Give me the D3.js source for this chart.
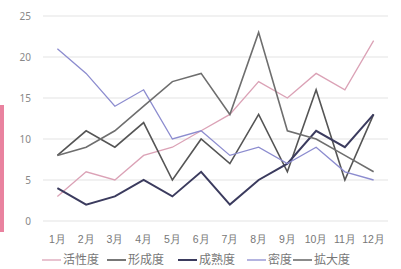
<!DOCTYPE html>
<html>
<head>
<meta charset="utf-8">
<script src="https://cdn.jsdelivr.net/npm/d3@7"></script>
<style>
  html, body { margin: 0; padding: 0; background: #fff; }
  svg { display: block; font-family: "Noto Sans CJK JP", "Noto Sans", sans-serif; }
</style>
</head>
<body>
<div id="chart"></div>
<script>
const WIDTH = 401;
const HEIGHT = 269;

const MONTHS = ["1月", "2月", "3月", "4月", "5月", "6月", "7月", "8月", "9月", "10月", "11月", "12月"];
const Y_TICKS = [0, 5, 10, 15, 20, 25];

// series values
const KASSEI = [3, 6, 5, 8, 9, 11, 13, 17, 15, 18, 16, 22];   // 活性度
const KEISEI = [8, 11, 9, 12, 5, 10, 7, 13, 6, 16, 5, 13];    // 形成度
const SEIJUKU = [4, 2, 3, 5, 3, 6, 2, 5, 7, 11, 9, 13];       // 成熟度
const MITSUDO = [21, 18, 14, 16, 10, 11, 8, 9, 7, 9, 6, 5];   // 密度
const KAKUDAI = [8, 9, 11, 14, 17, 18, 13, 23, 11, 10, 8, 6]; // 拡大度

const SERIES = [
  { name: "活性度", values: KASSEI, color: "#dba2b6", width: 1.3 },
  { name: "形成度", values: KEISEI, color: "#555555", width: 1.6 },
  { name: "成熟度", values: SEIJUKU, color: "#3b3b5e", width: 2 },
  { name: "密度", values: MITSUDO, color: "#8c8ccf", width: 1.3 },
  { name: "拡大度", values: KAKUDAI, color: "#6e6e6e", width: 1.6 },
];

const margin = { left: 43, right: 13, top: 16, bottom: 48 };

const svg = d3.select("#chart").append("svg")
  .attr("width", WIDTH)
  .attr("height", HEIGHT);

// pink accent strip on the left edge
svg.append("rect")
  .attr("x", 0).attr("y", 105)
  .attr("width", 4).attr("height", 127)
  .attr("fill", "#e9829f");

const x = d3.scaleBand()
  .domain(MONTHS)
  .range([margin.left, WIDTH - margin.right]);

const y = d3.scaleLinear()
  .domain([0, 25])
  .range([HEIGHT - margin.bottom, margin.top]);

// gridlines
svg.append("g")
  .selectAll("line")
  .data(Y_TICKS)
  .join("line")
  .attr("x1", margin.left)
  .attr("x2", WIDTH - margin.right)
  .attr("y1", (d) => y(d))
  .attr("y2", (d) => y(d))
  .attr("stroke", "#e3e3e3")
  .attr("stroke-width", 1);

// y axis labels
const yAxis = svg.append("g")
  .attr("transform", `translate(${margin.left - 12},0)`)
  .call(d3.axisLeft(y).tickValues(Y_TICKS).tickSize(0).tickPadding(0));
yAxis.select(".domain").remove();
yAxis.selectAll("text")
  .attr("fill", "#888")
  .style("font-size", "10px")
  .style("font-family", "'Noto Sans', sans-serif");

// x axis labels
const xAxis = svg.append("g")
  .attr("transform", `translate(0,${HEIGHT - margin.bottom + 15})`)
  .call(d3.axisBottom(x).tickSize(0).tickPadding(0));
xAxis.select(".domain").remove();
xAxis.selectAll("text")
  .attr("fill", "#777")
  .style("font-size", "10.5px");

const line = d3.line()
  .x((d, i) => x(MONTHS[i]) + x.bandwidth() / 2)
  .y((d) => y(d));

svg.append("g")
  .selectAll("path")
  .data(SERIES)
  .join("path")
  .attr("d", (d) => line(d.values))
  .attr("fill", "none")
  .attr("stroke", (d) => d.color)
  .attr("stroke-width", (d) => d.width)
  .attr("stroke-linejoin", "miter");

// legend
const legendX = [42, 107, 178, 247, 293];
const legend = svg.append("g")
  .attr("transform", `translate(0,${HEIGHT - 9})`);

const item = legend.selectAll("g")
  .data(SERIES)
  .join("g")
  .attr("transform", (d, i) => `translate(${legendX[i]},0)`);

item.append("line")
  .attr("x1", 0).attr("x2", 19)
  .attr("y1", 0).attr("y2", 0)
  .attr("stroke", (d) => d.color)
  .attr("stroke-width", (d) => d.width);

item.append("text")
  .attr("x", 21)
  .attr("dy", "0.35em")
  .attr("fill", "#777")
  .style("font-size", "12px")
  .text((d) => d.name);
</script>
</body>
</html>
